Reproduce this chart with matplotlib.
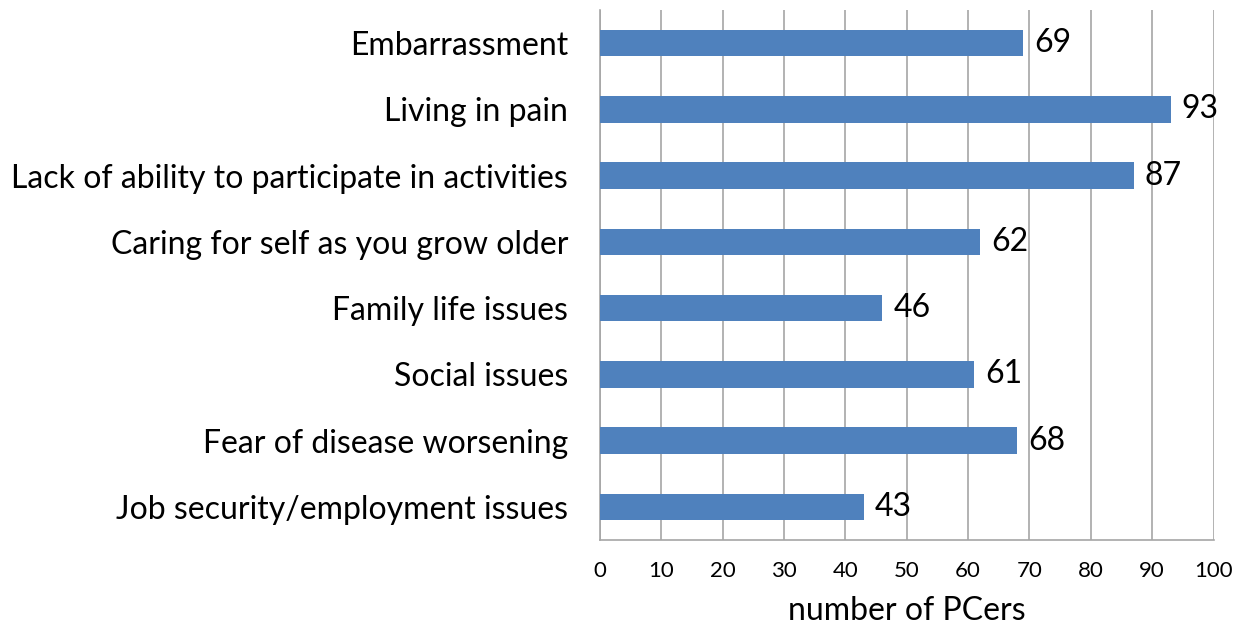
import matplotlib
matplotlib.use("Agg")
import matplotlib.pyplot as plt

categories = ["Embarrassment", "Living in pain", "Lack of ability to participate in activities",
              "Caring for self as you grow older", "Family life issues", "Social issues",
              "Fear of disease worsening", "Job security/employment issues"]
values = [69, 93, 87, 62, 46, 61, 68, 43]
xticks = list(range(0, 101, 10))

plt.rcParams['font.family'] = ['Lato', 'DejaVu Sans']

fig = plt.figure(figsize=(12.44, 6.27), dpi=100)
ax = fig.add_axes([0.4823, 0.1388, 0.9755 - 0.4823, 0.984 - 0.1388])

ypos = list(range(len(categories)))
bars = ax.barh(ypos, values, height=0.4, color="#4f81bd", zorder=3)
ax.set_ylim(len(categories) - 0.5, -0.5)
ax.set_xlim(0, 100)
ax.set_xticks(xticks)
ax.set_xticklabels([str(t) for t in xticks], fontsize=16)
ax.set_yticks(ypos)
ax.set_yticklabels(categories, fontsize=23)
ax.tick_params(axis='y', length=0, pad=23)
ax.tick_params(axis='x', length=0, pad=15)
ax.grid(axis='x', color="#a6a6a6", lw=1.2, zorder=0)
for s in ['top', 'right']:
    ax.spines[s].set_visible(False)
ax.spines['left'].set_color("#a6a6a6")
ax.spines['bottom'].set_color("#a6a6a6")
ax.spines['left'].set_linewidth(1.2)
ax.spines['bottom'].set_linewidth(1.2)
for y, v in zip(ypos, values):
    ax.text(v + 1.8, y, str(v), va='center', ha='left', fontsize=23, zorder=4)
ax.set_xlabel("number of PCers", fontsize=23, labelpad=11)

fig.savefig("out.png", dpi=100)
